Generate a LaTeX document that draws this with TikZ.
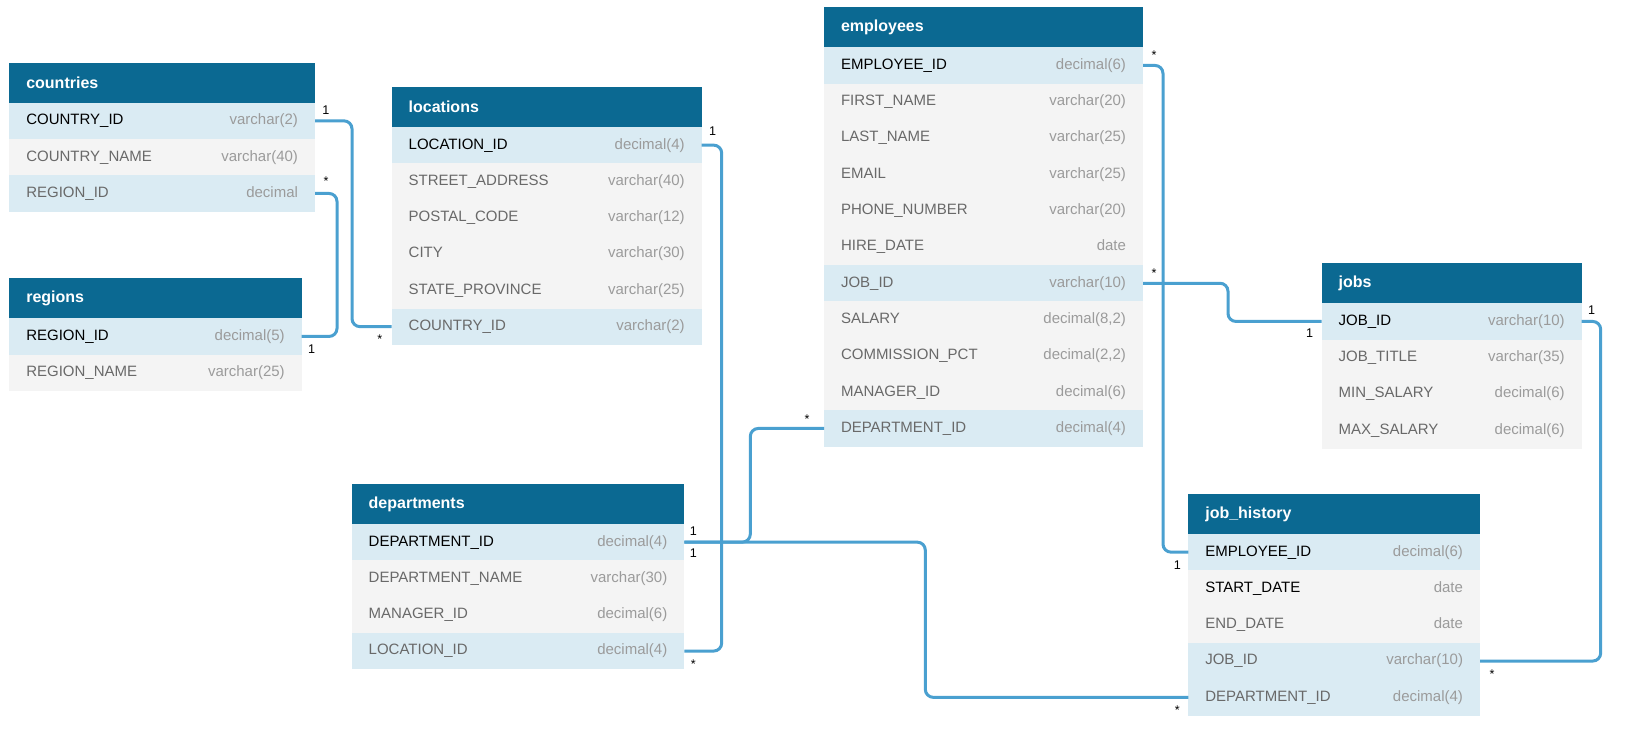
\documentclass[tikz,border=0pt]{standalone}
\usepackage{fontspec}
\setmainfont{Liberation Sans}
\usetikzlibrary{positioning,calc}

\definecolor{hdblue}{RGB}{11,105,146}
\definecolor{keyblue}{RGB}{218,235,243}
\definecolor{rowgray}{RGB}{244,244,244}
\definecolor{namegray}{RGB}{105,105,105}
\definecolor{typegray}{RGB}{155,155,155}
\definecolor{linkblue}{RGB}{74,160,208}

\newcommand{\rowtxt}[2]{#1\hfill\textcolor{typegray}{#2}}

\tikzset{
    tbl/.style={rectangle, fill=hdblue, text=white, anchor=north west, outer sep=0pt,
        inner xsep=8.5pt, inner ysep=0pt, minimum height=20pt, align=left,
        font=\fontsize{8}{9}\selectfont\bfseries},
    plain/.style={rectangle, fill=rowgray, text=namegray, outer sep=0pt,
        inner xsep=8.5pt, inner ysep=0pt, minimum height=18.15pt, align=left,
        font=\fontsize{7.5}{9}\selectfont},
    key/.style={plain, fill=keyblue},
    pk/.style={text=black},
    link/.style={draw=linkblue, line width=1.5pt, rounded corners=4pt},
    card/.style={font=\fontsize{6.3}{7}\selectfont, inner sep=0pt, text=black}
}

\begin{document}
\begin{tikzpicture}[x=0.5pt, y=-0.5pt]
    \fill[white] (0,0) rectangle (1635,729);
    \useasboundingbox (0,0) rectangle (1635,729);

    \begin{scope}[every node/.append style={text width=135.85pt}]
    \node[tbl] at (9.3,62.7)(cty){countries};
    \node[key, pk, below=0pt of cty](cty-id){\rowtxt{COUNTRY\_ID}{varchar(2)}};
    \node[plain, below=0pt of cty-id](cty-name){\rowtxt{COUNTRY\_NAME}{varchar(40)}};
    \node[key, below=0pt of cty-name](cty-reg){\rowtxt{REGION\_ID}{decimal}};
    \end{scope}

    \begin{scope}[every node/.append style={text width=129.2pt}]
    \node[tbl] at (9.3,278.3)(reg){regions};
    \node[key, pk, below=0pt of reg](reg-id){\rowtxt{REGION\_ID}{decimal(5)}};
    \node[plain, below=0pt of reg-id](reg-name){\rowtxt{REGION\_NAME}{varchar(25)}};
    \end{scope}

    \begin{scope}[every node/.append style={text width=138pt}]
    \node[tbl] at (391.7,87)(loc){locations};
    \node[key, pk, below=0pt of loc](loc-id){\rowtxt{LOCATION\_ID}{decimal(4)}};
    \node[plain, below=0pt of loc-id](loc-street){\rowtxt{STREET\_ADDRESS}{varchar(40)}};
    \node[plain, below=0pt of loc-street](loc-post){\rowtxt{POSTAL\_CODE}{varchar(12)}};
    \node[plain, below=0pt of loc-post](loc-city){\rowtxt{CITY}{varchar(30)}};
    \node[plain, below=0pt of loc-city](loc-state){\rowtxt{STATE\_PROVINCE}{varchar(25)}};
    \node[key, below=0pt of loc-state](loc-cty){\rowtxt{COUNTRY\_ID}{varchar(2)}};
    \end{scope}

    \begin{scope}[every node/.append style={text width=142.5pt}]
    \node[tbl] at (824,7.3)(emp){employees};
    \node[key, pk, below=0pt of emp](emp-id){\rowtxt{EMPLOYEE\_ID}{decimal(6)}};
    \node[plain, below=0pt of emp-id](emp-first){\rowtxt{FIRST\_NAME}{varchar(20)}};
    \node[plain, below=0pt of emp-first](emp-last){\rowtxt{LAST\_NAME}{varchar(25)}};
    \node[plain, below=0pt of emp-last](emp-mail){\rowtxt{EMAIL}{varchar(25)}};
    \node[plain, below=0pt of emp-mail](emp-phone){\rowtxt{PHONE\_NUMBER}{varchar(20)}};
    \node[plain, below=0pt of emp-phone](emp-hire){\rowtxt{HIRE\_DATE}{date}};
    \node[key, below=0pt of emp-hire](emp-job){\rowtxt{JOB\_ID}{varchar(10)}};
    \node[plain, below=0pt of emp-job](emp-sal){\rowtxt{SALARY}{decimal(8,2)}};
    \node[plain, below=0pt of emp-sal](emp-comm){\rowtxt{COMMISSION\_PCT}{decimal(2,2)}};
    \node[plain, below=0pt of emp-comm](emp-mgr){\rowtxt{MANAGER\_ID}{decimal(6)}};
    \node[key, below=0pt of emp-mgr](emp-dept){\rowtxt{DEPARTMENT\_ID}{decimal(4)}};
    \end{scope}

    \begin{scope}[every node/.append style={text width=113pt}]
    \node[tbl] at (1321.7,263.3)(job){jobs};
    \node[key, pk, below=0pt of job](job-id){\rowtxt{JOB\_ID}{varchar(10)}};
    \node[plain, below=0pt of job-id](job-title){\rowtxt{JOB\_TITLE}{varchar(35)}};
    \node[plain, below=0pt of job-title](job-min){\rowtxt{MIN\_SALARY}{decimal(6)}};
    \node[plain, below=0pt of job-min](job-max){\rowtxt{MAX\_SALARY}{decimal(6)}};
    \end{scope}

    \begin{scope}[every node/.append style={text width=149.3pt}]
    \node[tbl] at (351.7,484)(dep){departments};
    \node[key, pk, below=0pt of dep](dep-id){\rowtxt{DEPARTMENT\_ID}{decimal(4)}};
    \node[plain, below=0pt of dep-id](dep-name){\rowtxt{DEPARTMENT\_NAME}{varchar(30)}};
    \node[plain, below=0pt of dep-name](dep-mgr){\rowtxt{MANAGER\_ID}{decimal(6)}};
    \node[key, below=0pt of dep-mgr](dep-loc){\rowtxt{LOCATION\_ID}{decimal(4)}};
    \end{scope}

    \begin{scope}[every node/.append style={text width=128.85pt}]
    \node[tbl] at (1188.3,494)(jh){job\_history};
    \node[key, pk, below=0pt of jh](jh-emp){\rowtxt{EMPLOYEE\_ID}{decimal(6)}};
    \node[plain, pk, below=0pt of jh-emp](jh-start){\rowtxt{START\_DATE}{date}};
    \node[plain, below=0pt of jh-start](jh-end){\rowtxt{END\_DATE}{date}};
    \node[key, below=0pt of jh-end](jh-job){\rowtxt{JOB\_ID}{varchar(10)}};
    \node[key, below=0pt of jh-job](jh-dep){\rowtxt{DEPARTMENT\_ID}{decimal(4)}};
    \end{scope}

    % relations
    \draw[link] (cty-id.east) -- ++(37,0) |- (loc-cty.west);
    \draw[link] (cty-reg.east) -- ++(22,0) |- (reg-id.east);
    \draw[link] (loc-id.east) -- ++(20,0) |- (dep-loc.east);
    \draw[link] (dep-id.east) -- ++(66,0) |- (emp-dept.west);
    \draw[link] (dep-id.east) -- ++(241,0) |- (jh-dep.west);
    \draw[link] (emp-id.east) -- ++(20,0) |- (jh-emp.west);
    \draw[link] (emp-job.east) -- ++(85,0) |- (job-id.west);
    \draw[link] (job-id.east) -- ++(19,0) |- (jh-job.east);

    \node[card] at ($(cty-id.east)+(11,-11)$)(c1){1};
    \node[card] at ($(loc-cty.west)+(-12,13)$)(c2){*};
    \node[card] at ($(cty-reg.east)+(11,-12)$)(c3){*};
    \node[card] at ($(reg-id.east)+(10,13)$)(c4){1};
    \node[card] at ($(loc-id.east)+(11,-14)$)(c5){1};
    \node[card] at ($(dep-loc.east)+(9,13)$)(c6){*};
    \node[card] at ($(dep-id.east)+(9,-11)$)(c7){1};
    \node[card] at ($(dep-id.east)+(9,11)$)(c8){1};
    \node[card] at ($(emp-dept.west)+(-17,-9)$)(c9){*};
    \node[card] at ($(emp-id.east)+(11,-10)$)(c10){*};
    \node[card] at ($(jh-emp.west)+(-11,13)$)(c11){1};
    \node[card] at ($(emp-job.east)+(11,-10)$)(c12){*};
    \node[card] at ($(job-id.west)+(-12,12)$)(c13){1};
    \node[card] at ($(job-id.east)+(10,-11)$)(c14){1};
    \node[card] at ($(jh-job.east)+(12,13)$)(c15){*};
    \node[card] at ($(jh-dep.west)+(-11,13)$)(c16){*};
\end{tikzpicture}
\end{document}
